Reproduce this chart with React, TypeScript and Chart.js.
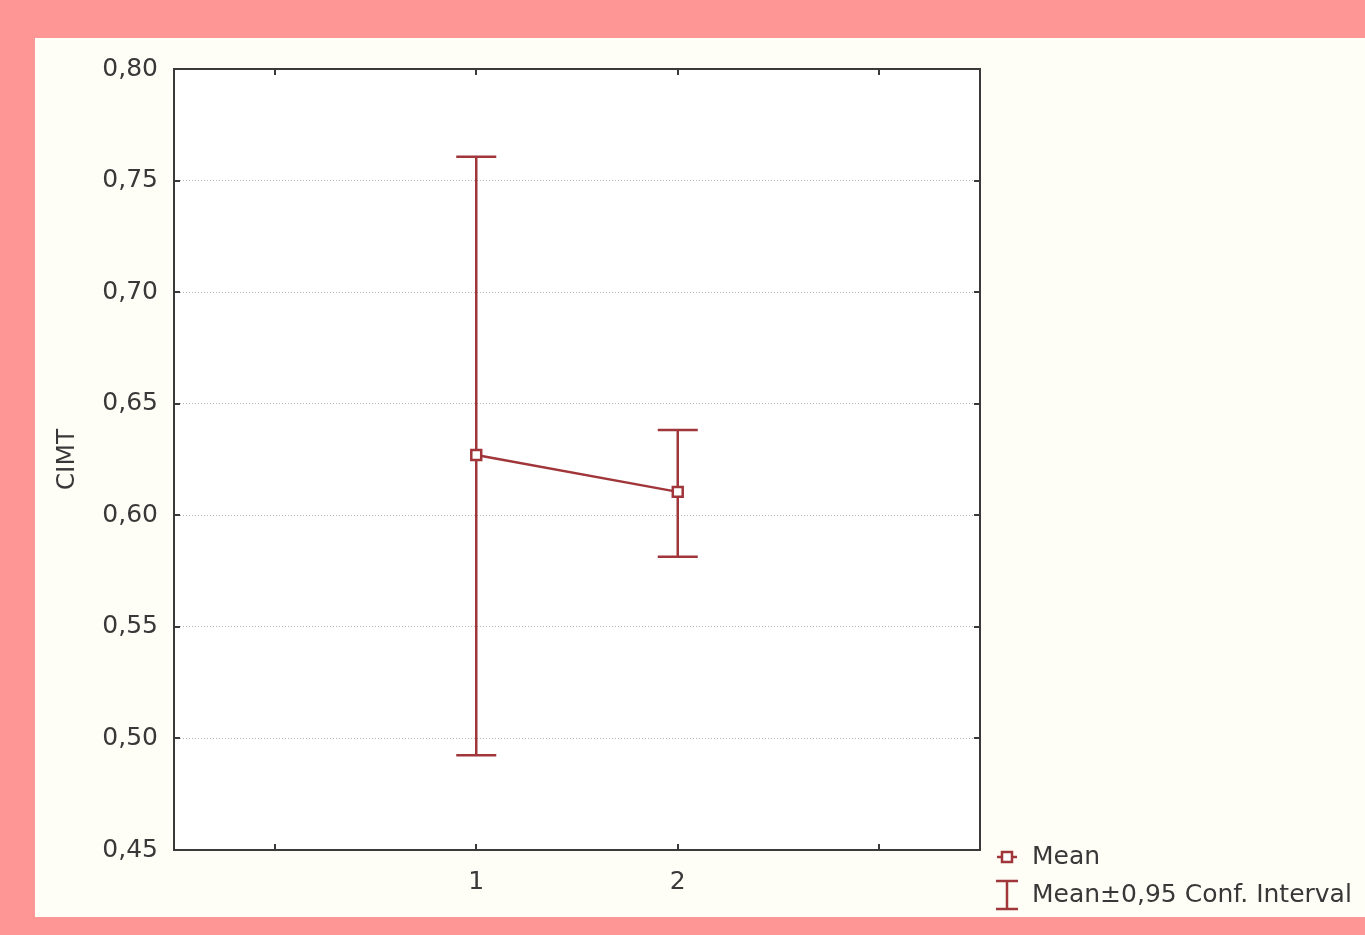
import React, { useEffect, useRef } from "react";
import { Chart, registerables } from "chart.js";

Chart.register(...registerables);

// ---- data ----
const categories = ["1", "2"];
const categoryPositions = [1, 2];
const meanValues = [0.627, 0.6105];
const upperValues = [0.7607, 0.6382];
const lowerValues = [0.4925, 0.5814];
const yTickValues = [0.45, 0.5, 0.55, 0.6, 0.65, 0.7, 0.75, 0.8];
const xTickValues = [0, 1, 2, 3];
const yAxisTitle = "CIMT";
const legendLabels = ["Mean", "Mean±0,95 Conf. Interval"];

// ---- style ----
const RED = "#a0353a";
const AXIS = "#3a3a3a";
const TEXT = "#383838";
const FONT_FAMILY = "'DejaVu Sans', Verdana, sans-serif";
const FONT_SIZE = 25;

const decoPlugin = {
  id: "deco",
  beforeDraw(chart: any) {
    const { ctx, chartArea: a } = chart;
    ctx.save();
    ctx.fillStyle = "#ffffff";
    ctx.fillRect(a.left, a.top, a.right - a.left, a.bottom - a.top);
    ctx.restore();
  },
  beforeDatasetsDraw(chart: any) {
    const { ctx, scales } = chart;
    const xs = scales.x;
    const ys = scales.y;
    ctx.save();
    ctx.strokeStyle = RED;
    ctx.lineWidth = 2.5;
    const cap = 20;
    for (let i = 0; i < categoryPositions.length; i++) {
      const x = xs.getPixelForValue(categoryPositions[i]);
      const yU = ys.getPixelForValue(upperValues[i]);
      const yL = ys.getPixelForValue(lowerValues[i]);
      ctx.beginPath();
      ctx.moveTo(x, yU);
      ctx.lineTo(x, yL);
      ctx.moveTo(x - cap, yU);
      ctx.lineTo(x + cap, yU);
      ctx.moveTo(x - cap, yL);
      ctx.lineTo(x + cap, yL);
      ctx.stroke();
    }
    ctx.restore();
  },
  afterDraw(chart: any) {
    const { ctx, chartArea: a, scales } = chart;
    const xs = scales.x;
    const ys = scales.y;
    ctx.save();
    // frame
    ctx.strokeStyle = AXIS;
    ctx.lineWidth = 2;
    ctx.strokeRect(a.left, a.top, a.right - a.left, a.bottom - a.top);
    // inward ticks
    const tl = 6;
    ctx.beginPath();
    xTickValues.forEach((v) => {
      const x = Math.round(xs.getPixelForValue(v));
      ctx.moveTo(x, a.bottom);
      ctx.lineTo(x, a.bottom - tl);
      ctx.moveTo(x, a.top);
      ctx.lineTo(x, a.top + tl);
    });
    yTickValues.forEach((v) => {
      const y = Math.round(ys.getPixelForValue(v));
      ctx.moveTo(a.left, y);
      ctx.lineTo(a.left + tl, y);
      ctx.moveTo(a.right, y);
      ctx.lineTo(a.right - tl, y);
    });
    ctx.stroke();

    // y axis title
    ctx.fillStyle = TEXT;
    ctx.font = `${FONT_SIZE}px ${FONT_FAMILY}`;
    ctx.textAlign = "center";
    ctx.textBaseline = "middle";
    ctx.save();
    ctx.translate(32, (a.top + a.bottom) / 2);
    ctx.rotate(-Math.PI / 2);
    ctx.fillText(yAxisTitle, 0, 0);
    ctx.restore();

    // legend
    const lx = a.right + 27;
    const ly1 = a.bottom + 7;
    const ly2 = a.bottom + 45;
    ctx.strokeStyle = RED;
    ctx.lineWidth = 2.5;
    ctx.beginPath();
    ctx.moveTo(lx - 10, ly1);
    ctx.lineTo(lx + 10, ly1);
    ctx.stroke();
    ctx.fillStyle = "#ffffff";
    ctx.fillRect(lx - 5, ly1 - 5, 10, 10);
    ctx.strokeRect(lx - 5, ly1 - 5, 10, 10);
    ctx.beginPath();
    ctx.moveTo(lx, ly2 - 14);
    ctx.lineTo(lx, ly2 + 14);
    ctx.moveTo(lx - 11, ly2 - 14);
    ctx.lineTo(lx + 11, ly2 - 14);
    ctx.moveTo(lx - 11, ly2 + 14);
    ctx.lineTo(lx + 11, ly2 + 14);
    ctx.stroke();
    ctx.fillStyle = TEXT;
    ctx.textAlign = "left";
    ctx.fillText(legendLabels[0], lx + 25, ly1);
    ctx.fillText(legendLabels[1], lx + 25, ly2);
    ctx.restore();
  },
};

export default function App() {
  const ref = useRef<HTMLCanvasElement | null>(null);
  useEffect(() => {
    if (!ref.current) return;
    const chart = new Chart(ref.current, {
      type: "line",
      data: {
        datasets: [
          {
            label: legendLabels[0],
            data: categoryPositions.map((x, i) => ({ x, y: meanValues[i] })),
            borderColor: RED,
            borderWidth: 2.5,
            pointStyle: "rect",
            pointRadius: 7,
            pointBackgroundColor: "#ffffff",
            pointBorderColor: RED,
            pointBorderWidth: 2.5,
            fill: false,
            tension: 0,
          },
        ],
      },
      options: {
        animation: false,
        responsive: true,
        maintainAspectRatio: false,
        events: [],
        layout: { padding: { top: 27, right: 385, left: 0, bottom: 0 } },
        plugins: { legend: { display: false }, tooltip: { enabled: false } },
        scales: {
          x: {
            type: "linear",
            min: -0.5,
            max: 3.5,
            afterBuildTicks: (s: any) => {
              s.ticks = xTickValues.map((v) => ({ value: v }));
            },
            afterFit: (s: any) => {
              s.height = 67;
            },
            grid: { display: false, drawTicks: false },
            border: { display: false },
            ticks: {
              padding: 17,
              color: TEXT,
              font: { family: FONT_FAMILY, size: FONT_SIZE },
              maxRotation: 0,
              autoSkip: false,
              callback: (v: any) => {
                const i = categoryPositions.indexOf(Number(v));
                return i >= 0 ? categories[i] : "";
              },
            },
          },
          y: {
            type: "linear",
            min: 0.45,
            max: 0.8,
            afterBuildTicks: (s: any) => {
              s.ticks = yTickValues.map((v) => ({ value: v }));
            },
            afterFit: (s: any) => {
              s.width = 139;
            },
            grid: {
              drawTicks: false,
              color: "#b4b4b4",
              lineWidth: 1,
            },
            border: { display: false, dash: [1, 2] },
            ticks: {
              padding: 16,
              color: TEXT,
              font: { family: FONT_FAMILY, size: FONT_SIZE },
              autoSkip: false,
              callback: (v: any) => Number(v).toFixed(2).replace(".", ","),
            },
          },
        },
      },
      plugins: [decoPlugin],
    } as any);
    return () => chart.destroy();
  }, []);

  return (
    <div
      style={{
        position: "absolute",
        left: 0,
        top: 0,
        width: 1365,
        height: 935,
        background: "#ff9696",
        overflow: "hidden",
      }}
    >
      <div
        style={{
          position: "absolute",
          left: 35,
          top: 38,
          width: 1330,
          height: 879,
          background: "#fffef6",
        }}
      >
        <canvas ref={ref} />
      </div>
    </div>
  );
}
